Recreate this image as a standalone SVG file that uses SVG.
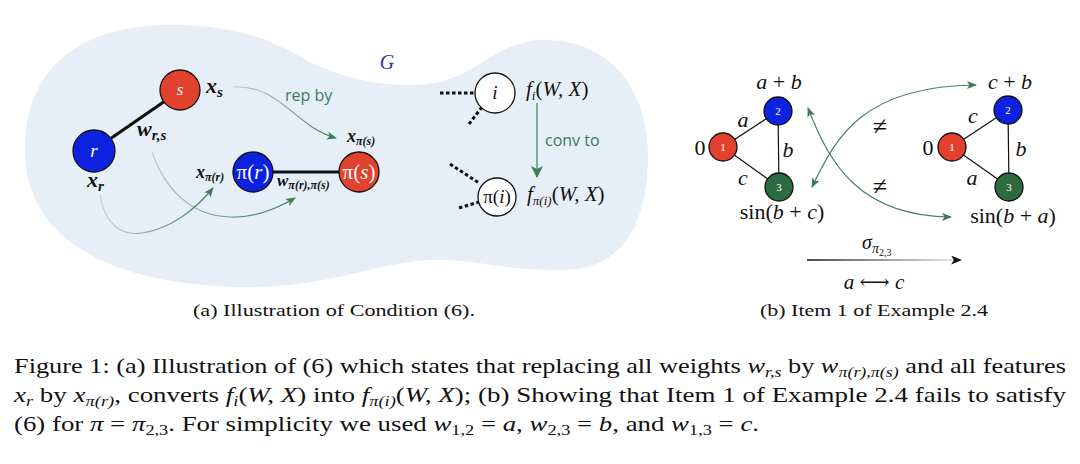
<svg xmlns="http://www.w3.org/2000/svg" width="1080" height="464" viewBox="0 0 1080 464">
<style>
.serif{font-family:"Liberation Serif","DejaVu Serif",serif;}
.mi{font-family:"Liberation Serif","DejaVu Serif",serif;font-style:italic;}
.mb{font-family:"Liberation Serif","DejaVu Serif",serif;font-style:italic;font-weight:bold;fill:#111;}
.sans{font-family:"Open Sans","Noto Sans",sans-serif;fill:#3f7b58;}
.node{stroke:#111;stroke-width:1.3;}
.wl{fill:#fff;text-anchor:middle;}
.garrow{fill:none;stroke-width:1.2;}
.dots{stroke:#111;stroke-width:3;stroke-dasharray:3.5 2.5;fill:none;}
.cap{font-family:"Liberation Serif","DejaVu Serif",serif;font-size:22px;fill:#111;}
.sub{font-size:15px;}
</style>
<defs>
<marker id="gh" viewBox="0 0 10 8" refX="9" refY="4" markerWidth="10" markerHeight="8" markerUnits="userSpaceOnUse" orient="auto-start-reverse">
<path d="M0,0 L10,4 L0,8 L2.5,4 Z" fill="#3d7a56"/>
</marker>
<marker id="gbig" viewBox="0 0 12 12" refX="11" refY="6" markerWidth="12" markerHeight="12" markerUnits="userSpaceOnUse" orient="auto">
<path d="M0,0 L12,6 L0,12 L3,6 Z" fill="#3d7a56"/>
</marker>
<marker id="bh" viewBox="0 0 10 8" refX="9" refY="4" markerWidth="11" markerHeight="9" markerUnits="userSpaceOnUse" orient="auto">
<path d="M0,0 L10,4 L0,8 L2.5,4 Z" fill="#111"/>
</marker>
<linearGradient id="g1" gradientUnits="userSpaceOnUse" x1="233" y1="87" x2="337" y2="138">
<stop offset="0" stop-color="#3d7a56" stop-opacity="0.25"/><stop offset="1" stop-color="#3d7a56"/>
</linearGradient>
<linearGradient id="g2" gradientUnits="userSpaceOnUse" x1="100" y1="195" x2="213" y2="188">
<stop offset="0" stop-color="#3d7a56" stop-opacity="0.25"/><stop offset="1" stop-color="#3d7a56"/>
</linearGradient>
<linearGradient id="g3" gradientUnits="userSpaceOnUse" x1="152" y1="152" x2="295" y2="198">
<stop offset="0" stop-color="#3d7a56" stop-opacity="0.25"/><stop offset="1" stop-color="#3d7a56"/>
</linearGradient>
<linearGradient id="gb" gradientUnits="userSpaceOnUse" x1="807" y1="0" x2="962" y2="0">
<stop offset="0" stop-color="#111"/><stop offset="1" stop-color="#111" stop-opacity="0.1"/>
</linearGradient>
</defs>

<g id="blob">
<path d="M25,150 C25,60 90,25 170,25 C240,25 270,40 310,62 C350,82 400,90 440,82 C480,72 500,40 545,40 C610,40 650,90 648,160 C646,230 620,270 560,270 C500,270 470,258 430,260 C380,262 330,287 250,287 C130,287 25,250 25,150 Z" fill="#e6eef8"/>
<text x="387" y="69" class="mi" font-size="20" fill="#1f3c9c" text-anchor="middle">G</text>
</g>

<g id="edges">
<line x1="110" y1="139" x2="165" y2="101" stroke="#111" stroke-width="3.2"/>
<line x1="272" y1="172" x2="340" y2="172" stroke="#111" stroke-width="3.2"/>
<line x1="440" y1="93" x2="475" y2="93" class="dots"/>
<line x1="482" y1="107" x2="469" y2="124" class="dots"/>
<line x1="450" y1="164" x2="479" y2="183" class="dots"/>
<line x1="459" y1="208" x2="479" y2="202" class="dots"/>
<line x1="723" y1="147" x2="778" y2="111" stroke="#111" stroke-width="1.2"/>
<line x1="778" y1="111" x2="779" y2="187" stroke="#111" stroke-width="1.2"/>
<line x1="723" y1="147" x2="779" y2="187" stroke="#111" stroke-width="1.2"/>
<line x1="952" y1="147" x2="1008" y2="110" stroke="#111" stroke-width="1.2"/>
<line x1="1008" y1="110" x2="1009" y2="187" stroke="#111" stroke-width="1.2"/>
<line x1="952" y1="147" x2="1009" y2="187" stroke="#111" stroke-width="1.2"/>
</g>

<g id="connectors">
<path d="M233,87 C280,84 295,127 336,138" class="garrow" stroke="url(#g1)" marker-end="url(#gh)"/>
<path d="M100,195 C105,225 122,236 142,233 C170,229 195,210 213,188" class="garrow" stroke="url(#g2)" marker-end="url(#gh)"/>
<path d="M152,152 C165,190 192,216 230,217 C256,218 278,208 295,198" class="garrow" stroke="url(#g3)" marker-end="url(#gh)"/>
<line x1="537" y1="103" x2="537" y2="177" stroke="#3d7a56" stroke-width="1.2" marker-end="url(#gbig)"/>
<path d="M808,108 C830,165 860,216 951,217" class="garrow" stroke="#4a8062" marker-start="url(#gh)" marker-end="url(#gh)"/>
<path d="M812,187 C835,140 860,86 976,85" class="garrow" stroke="#4a8062" marker-start="url(#gh)" marker-end="url(#gh)"/>
<line x1="807" y1="260" x2="961" y2="260" stroke="url(#gb)" stroke-width="1.4" marker-end="url(#bh)"/>
</g>

<g id="labels-a">
<text x="206" y="93" class="mb" font-size="22">x<tspan font-size="15" dy="4">s</tspan></text>
<text x="137" y="136" class="mb" font-size="22">w<tspan font-size="15" dy="4">r,s</tspan></text>
<text x="87" y="187" class="mb" font-size="22">x<tspan font-size="15" dy="4">r</tspan></text>
<text x="347" y="142" class="mb" font-size="18">x<tspan font-size="12" dy="3">π(s)</tspan></text>
<text x="196" y="178" class="mb" font-size="18">x<tspan font-size="12" dy="3">π(r)</tspan></text>
<text x="277" y="186" class="mb" font-size="17">w<tspan font-size="12" dy="3">π(r),π(s)</tspan></text>
<text x="285" y="101" class="sans" font-size="16">rep by</text>
<text x="545" y="146" class="sans" font-size="16">conv to</text>
<text x="526" y="96" class="mi" font-size="21" fill="#111">f<tspan font-size="13" dy="4">i</tspan><tspan dy="-4" font-style="normal">(</tspan>W, X<tspan font-style="normal">)</tspan></text>
<text x="527" y="201" class="mi" font-size="21" fill="#111">f<tspan font-size="13" dy="4">π(i)</tspan><tspan dy="-4" font-style="normal">(</tspan>W, X<tspan font-style="normal">)</tspan></text>
</g>

<g id="node-s"><circle cx="180" cy="90" r="20" fill="#e2412d" class="node"/><text x="180" y="95" class="mi wl" font-size="17">s</text></g>
<g id="node-r"><circle cx="94" cy="151" r="21" fill="#0d22e0" class="node"/><text x="94" y="157" class="mi wl" font-size="19">r</text></g>
<g id="node-pir"><circle cx="253" cy="172" r="20" fill="#0d22e0" class="node"/><text x="253" y="179" class="serif wl" font-size="21">π(<tspan font-style="italic">r</tspan>)</text></g>
<g id="node-pis"><circle cx="359" cy="172" r="20" fill="#e2412d" class="node"/><text x="359" y="179" class="serif wl" font-size="21">π(<tspan font-style="italic">s</tspan>)</text></g>
<g id="node-i"><circle cx="495" cy="93" r="20" fill="#fff" class="node"/><text x="495" y="99" class="mi" font-size="19" fill="#111" text-anchor="middle">i</text></g>
<g id="node-pii"><circle cx="497" cy="197" r="19" fill="#fff" class="node"/><text x="497" y="203" class="serif" font-size="19" fill="#111" text-anchor="middle">π(<tspan font-style="italic">i</tspan>)</text></g>

<g id="node-b1"><circle cx="723" cy="147" r="14" fill="#e2412d" class="node"/><text x="723" y="151" class="serif wl" font-size="11">1</text></g>
<g id="node-b2"><circle cx="778" cy="111" r="14" fill="#0d22e0" class="node"/><text x="778" y="115" class="serif wl" font-size="11">2</text></g>
<g id="node-b3"><circle cx="779" cy="187" r="14" fill="#2c6b3f" class="node"/><text x="779" y="191" class="serif wl" font-size="11">3</text></g>
<g id="node-b1p"><circle cx="952" cy="147" r="14" fill="#e2412d" class="node"/><text x="952" y="151" class="serif wl" font-size="11">1</text></g>
<g id="node-b2p"><circle cx="1008" cy="110" r="14" fill="#0d22e0" class="node"/><text x="1008" y="114" class="serif wl" font-size="11">2</text></g>
<g id="node-b3p"><circle cx="1009" cy="187" r="14" fill="#2c6b3f" class="node"/><text x="1009" y="191" class="serif wl" font-size="11">3</text></g>

<g id="labels-b" fill="#111" font-size="22">
<text x="700" y="155" class="serif" text-anchor="middle">0</text>
<text x="743" y="127" class="mi" text-anchor="middle">a</text>
<text x="788" y="157" class="mi" text-anchor="middle">b</text>
<text x="743" y="185" class="mi" text-anchor="middle">c</text>
<text x="779" y="89" class="mi" text-anchor="middle">a <tspan font-style="normal">+</tspan> b</text>
<text x="782" y="219" class="serif" text-anchor="middle">sin(<tspan font-style="italic">b</tspan> + <tspan font-style="italic">c</tspan>)</text>
<text x="928" y="155" class="serif" text-anchor="middle">0</text>
<text x="973" y="123" class="mi" text-anchor="middle">c</text>
<text x="1021" y="156" class="mi" text-anchor="middle">b</text>
<text x="972" y="185" class="mi" text-anchor="middle">a</text>
<text x="1010" y="89" class="mi" text-anchor="middle">c <tspan font-style="normal">+</tspan> b</text>
<text x="1013" y="223" class="serif" text-anchor="middle">sin(<tspan font-style="italic">b</tspan> + <tspan font-style="italic">a</tspan>)</text>
<text x="880" y="135" class="serif" font-size="26" text-anchor="middle">≠</text>
<text x="880" y="195" class="serif" font-size="26" text-anchor="middle">≠</text>
<text x="862" y="249" class="mi" font-size="20">σ<tspan font-size="14" dy="4">π</tspan><tspan font-size="10" font-style="normal" dy="3">2,3</tspan></text>
<text x="874" y="289" class="mi" font-size="21" text-anchor="middle">a <tspan font-style="normal">⟷</tspan> c</text>
</g>

<g id="captions">
<text x="193" y="316" class="serif" font-size="16.5" fill="#111" textLength="282" lengthAdjust="spacingAndGlyphs">(a) Illustration of Condition (6).</text>
<text x="760" y="316" class="serif" font-size="16.5" fill="#111" textLength="228" lengthAdjust="spacingAndGlyphs">(b) Item 1 of Example 2.4</text>
<text x="14" y="373" class="cap" textLength="1052" lengthAdjust="spacingAndGlyphs">Figure 1: (a) Illustration of (6) which states that replacing all weights <tspan font-style="italic">w</tspan><tspan class="sub" font-style="italic" dy="4">r,s</tspan><tspan dy="-4"> by </tspan><tspan font-style="italic">w</tspan><tspan class="sub" font-style="italic" dy="4">π(r),π(s)</tspan><tspan dy="-4"> and all features</tspan></text>
<text x="14" y="402" class="cap" textLength="1052" lengthAdjust="spacingAndGlyphs"><tspan font-style="italic">x</tspan><tspan class="sub" font-style="italic" dy="4">r</tspan><tspan dy="-4"> by </tspan><tspan font-style="italic">x</tspan><tspan class="sub" font-style="italic" dy="4">π(r)</tspan><tspan dy="-4">, converts </tspan><tspan font-style="italic">f</tspan><tspan class="sub" font-style="italic" dy="4">i</tspan><tspan dy="-4">(</tspan><tspan font-style="italic">W, X</tspan>) into <tspan font-style="italic">f</tspan><tspan class="sub" font-style="italic" dy="4">π(i)</tspan><tspan dy="-4">(</tspan><tspan font-style="italic">W, X</tspan>); (b) Showing that Item 1 of Example 2.4 fails to satisfy</text>
<text x="14" y="431" class="cap" textLength="745" lengthAdjust="spacingAndGlyphs">(6) for <tspan font-style="italic">π</tspan> = <tspan font-style="italic">π</tspan><tspan class="sub" dy="4">2,3</tspan><tspan dy="-4">. For simplicity we used </tspan><tspan font-style="italic">w</tspan><tspan class="sub" dy="4">1,2</tspan><tspan dy="-4"> = </tspan><tspan font-style="italic">a</tspan>, <tspan font-style="italic">w</tspan><tspan class="sub" dy="4">2,3</tspan><tspan dy="-4"> = </tspan><tspan font-style="italic">b</tspan>, and <tspan font-style="italic">w</tspan><tspan class="sub" dy="4">1,3</tspan><tspan dy="-4"> = </tspan><tspan font-style="italic">c</tspan>.</text>
</g>
</svg>
